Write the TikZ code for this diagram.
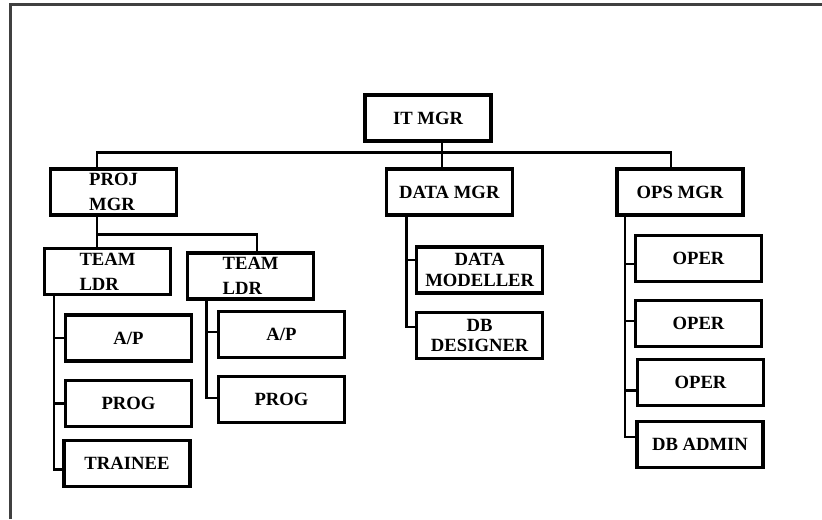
\documentclass[tikz,border=0pt]{standalone}
\usepackage{fontspec}
\setmainfont{Liberation Serif}
\usetikzlibrary{calc}
\tikzset{
  orgbox/.style={draw, line width=2.3pt, minimum width=94.5pt, minimum height=34.5pt,
    inner sep=0pt, align=center, font=\fontsize{14}{18.75}\selectfont\bfseries},
  leftbox/.style={orgbox, align=left},
  link/.style={line width=2.1pt},
  frameline/.style={line width=2pt, draw=black!75},
}
\begin{document}
\begin{tikzpicture}[x=0.75pt,y=-0.75pt]
\useasboundingbox (0,0) rectangle (822,519);
% page frame (left and top edges)
\draw[frameline] (10.3,519) -- (10.3,4.5) -- (822,4.5);

% top level
\node[orgbox] (it) at (428,118) {IT MGR};

% managers
\node[leftbox] (pm) at (113.5,192) {PROJ\\MGR};
\node[orgbox]  (dm) at (449.3,192) {DATA MGR};
\node[orgbox]  (om) at (680,192) {OPS MGR};

% project branch
\node[leftbox] (tl1) at (107.5,271.5) {TEAM\\LDR};
\node[leftbox] (tl2) at (250.6,276) {TEAM\\LDR};
\node[orgbox] (ap1) at (128.5,338) {A/P};
\node[orgbox] (pg1) at (128.5,403.5) {PROG};
\node[orgbox] (tr)  at (127,463.5) {TRAINEE};
\node[orgbox] (ap2) at (281.5,334.5) {A/P};
\node[orgbox] (pg2) at (281.5,399.5) {PROG};

% data branch
\node[orgbox, font=\fontsize{14}{15.75}\selectfont\bfseries] (dmod) at (479.7,270) {DATA\\MODELLER};
\node[orgbox, font=\fontsize{14}{14.6}\selectfont\bfseries] (dbd) at (479.7,335.5) {DB\\DESIGNER};

% operations branch
\node[orgbox] (op1) at (698.5,258.5) {OPER};
\node[orgbox] (op2) at (698.5,323.5) {OPER};
\node[orgbox] (op3) at (700.5,382.5) {OPER};
\node[orgbox] (dba) at (700,444.5) {DB ADMIN};

% connectors: top level
\draw[link] ($(it.south)+(14,0)$) -- ($(dm.north)+(-7.3,0)$);
\draw[link] ($(pm.north)+(-16.5,0)$) -- ++(0,-15) -| ($(om.north)+(-9,0)$);

% project manager to team leaders
\draw[link] ($(pm.south)+(-16.5,0)$) -- ($(tl1.north)+(-10.5,0)$);
\draw[link] ($(pm.south)+(-16.5,18)$) -| ($(tl2.north)+(6.4,0)$);

% team leader 1
\draw[link] ($(tl1.south west)+(11,0)$) |- ($(tr.west)+(0,6)$);
\draw[link] ($(tl1.south west)+(11,0)$) |- (ap1.west);
\draw[link] ($(tl1.south west)+(11,0)$) |- (pg1.west);

% team leader 2
\draw[link] ($(tl2.south west)+(20.5,0)$) |- ($(pg2.west)+(0,-1.5)$);
\draw[link] ($(tl2.south west)+(20.5,0)$) |- ($(ap2.west)+(0,-2.5)$);

% data manager
\draw[link] ($(dm.south west)+(22,0)$) |- ($(dbd.west)+(0,-8.5)$);
\draw[link] ($(dm.south west)+(22,0)$) |- ($(dmod.west)+(0,-10)$);

% operations manager
\draw[link] ($(om.south west)+(9.5,0)$) |- ($(dba.west)+(0,-7.5)$);
\draw[link] ($(om.south west)+(9.5,0)$) |- ($(op1.west)+(0,5.5)$);
\draw[link] ($(om.south west)+(9.5,0)$) |- ($(op2.west)+(0,-2.5)$);
\draw[link] ($(om.south west)+(9.5,0)$) |- ($(op3.west)+(0,8)$);
\end{tikzpicture}
\end{document}
